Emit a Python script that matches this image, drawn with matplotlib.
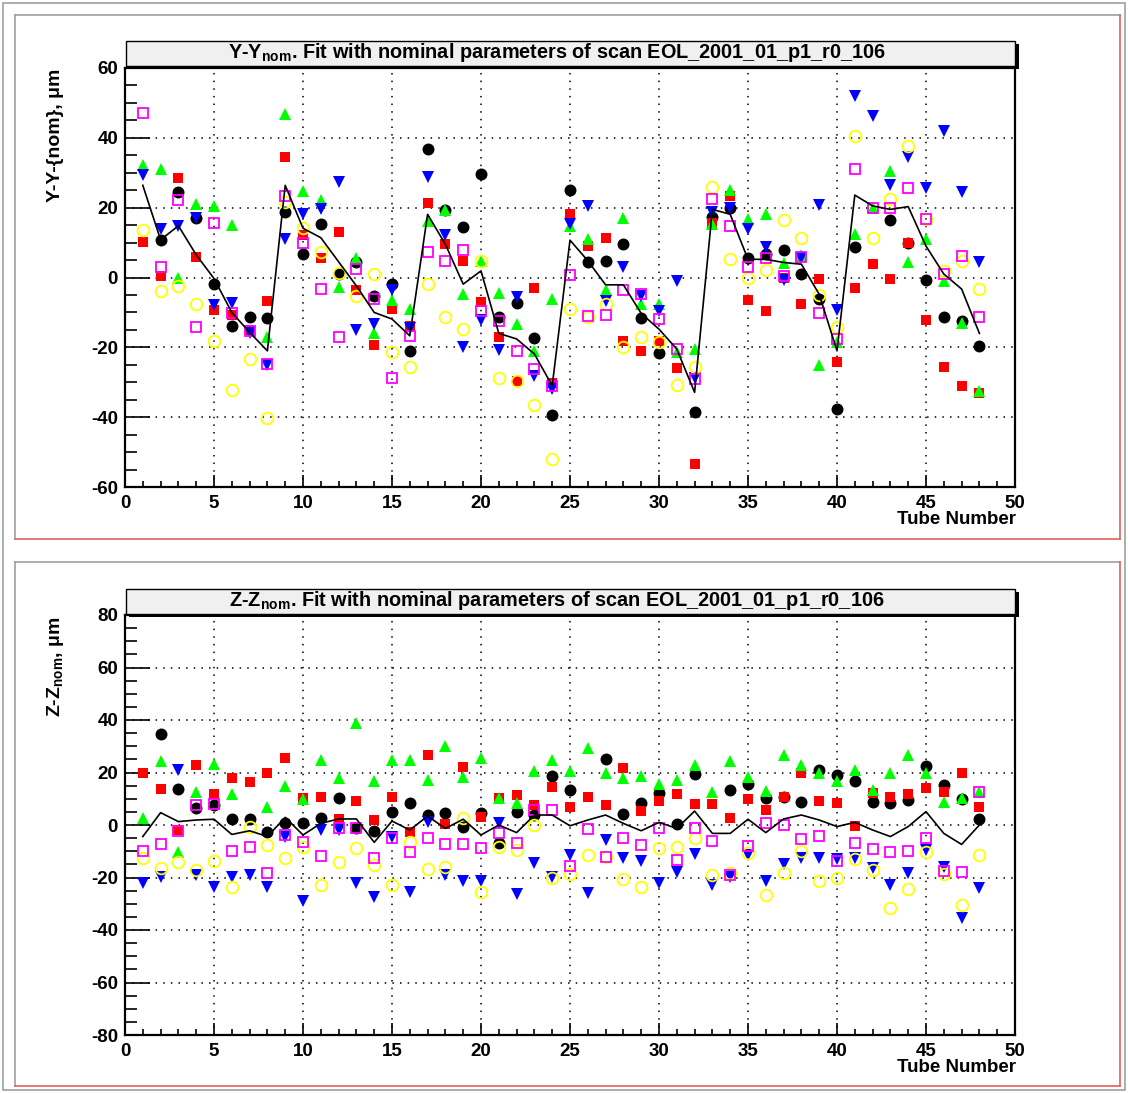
import numpy as np
import matplotlib
matplotlib.use("Agg")
import matplotlib.pyplot as plt
from matplotlib.patches import Rectangle
from matplotlib.lines import Line2D
from matplotlib.ticker import MultipleLocator

nan = np.nan
tubes = np.arange(1, 49)

# ---- Y - Y_nom (top pad) ----
y_black = [nan, 10.8, 24.6, 17.1, -1.9, -13.8, -11.4, -11.7, 18.9, 6.7, 15.2, 1.1,
           4.3, -5.4, -1.9, -21.1, 36.9, 19.2, 14.5, 29.7, -11.2, -7.3, -17.3, -39.5,
           25.0, 4.5, 4.6, 9.5, -11.7, -21.7, nan, -38.4, 17.3, 20.0, 5.5, 6.7,
           8.0, 1.0, -6.2, -37.6, 8.6, nan, 16.4, 10.0, -0.7, -11.4, -12.6, -19.7]
y_red = [10.3, 0.5, 28.4, 6.0, -9.3, -10.7, -15.0, -6.7, 34.5, 12.2, 5.7, 12.9,
         -3.6, -19.2, -9.0, -13.8, 21.4, 9.7, 4.8, -6.9, -17.1, -29.5, -3.0, -30.2,
         18.3, 9.0, 11.2, -18.1, -21.1, -18.1, -25.9, -53.5, 15.7, 23.3, -6.5, -9.5,
         0.0, -7.6, -0.5, -24.1, -3.1, 4.0, -0.5, 9.8, -12.2, -25.5, -31.0, -33.1]
y_green = [32.2, 31.2, -0.2, 21.0, 20.5, 15.0, nan, -17.1, 46.9, 24.8, 22.3, -2.7,
           5.7, -16.0, -6.5, -9.0, 16.2, 19.2, -4.8, 4.8, -4.3, -13.3, -21.0, -6.2,
           14.8, 11.0, -3.6, 17.1, -7.6, -7.6, -21.4, -20.5, 15.2, 25.0, 16.7, 18.1,
           4.2, 6.4, -25.0, -18.6, 12.4, 20.0, 30.5, 4.3, 11.0, -1.1, -12.9, -32.6]
y_blue = [29.3, 13.8, 14.8, 16.9, -7.9, -7.3, -16.0, -25.0, 11.0, 18.1, 19.7, 27.4,
          -15.0, -13.3, -3.6, -14.5, 28.8, 12.2, -20.0, -12.2, -20.8, -5.5, -28.1, -31.9,
          15.2, 20.5, -6.7, 3.0, -5.2, -9.5, -1.0, -28.8, 18.9, 19.8, 13.8, 8.8,
          -0.6, 5.7, 20.8, -9.3, 52.1, 46.2, 26.5, 34.5, 25.5, 42.1, 24.5, 4.5]
y_yellow = [13.5, -3.8, -2.4, -7.6, -18.1, -32.2, -23.3, -40.3, 21.6, 14.1, 7.3, 1.4,
            -5.2, 1.1, -21.4, -25.7, -1.9, -11.4, -14.8, 4.6, -28.8, -29.5, -36.4, -51.9,
            -9.0, -11.2, -7.6, -20.0, -17.0, -18.6, -30.7, -25.7, 25.9, 5.2, -0.2, 2.2,
            16.5, 11.4, -5.0, -14.1, 40.5, 11.2, 22.4, 37.8, 16.7, 1.9, 4.8, -3.3]
y_magenta = [47.0, 3.0, 22.1, -14.3, 15.5, -10.3, -15.2, -24.8, 23.3, 10.0, -3.3, -16.9,
             2.4, -6.2, -28.9, -16.7, 7.4, 4.8, 7.8, -9.5, -12.4, -21.0, -26.2, -31.0,
             0.8, -11.0, -10.7, -3.6, -4.8, -11.9, -20.5, -29.2, 22.4, 14.8, 3.0, 5.7,
             0.5, 5.9, -10.2, -17.6, 31.2, 19.8, 19.8, 25.7, 16.7, 1.0, 6.2, -11.4]
y_line = [26.4, 10.8, 14.8, 6.5, -0.3, -10.0, -15.7, -21.0, 26.4, 14.1, 11.4, 4.5,
          -2.4, -10.0, -11.9, -16.7, 18.1, 9.5, -1.9, 1.9, -16.0, -17.6, -21.9, -31.0,
          10.7, 4.8, -2.1, -2.1, -10.3, -14.8, -20.5, -32.9, 19.5, 18.1, 5.2, 5.2,
          4.3, 3.8, -4.8, -21.0, 23.6, 20.5, 19.5, 20.3, 9.0, 1.0, -3.3, -16.0]

# ---- Z - Z_nom (bottom pad) ----
z_black = [nan, 34.7, 13.6, 6.3, 7.6, 2.2, 2.2, -2.8, 0.6, 0.6, 2.5, 10.4,
           -1.3, -2.3, 4.8, 8.5, 3.8, 4.4, -0.6, 4.4, -7.0, 5.1, 3.8, 18.7,
           13.3, nan, 25.1, 4.1, 8.5, 12.1, 0.3, 19.3, nan, 13.3, 15.5, 10.4,
           10.8, 8.9, 21.0, 19.0, 16.9, 8.9, 8.3, 9.5, 22.6, 15.2, 9.9, 2.3]
z_red = [19.7, 13.6, -1.9, 22.9, 11.7, 18.0, 16.3, 19.9, 25.4, 10.2, 10.8, 2.2,
         9.1, 1.9, 10.5, -2.5, 26.7, 0.3, 22.2, 3.2, 10.2, 11.4, 7.6, 14.6,
         7.0, 10.5, 7.6, 21.8, 5.3, 9.3, 11.7, 7.9, 8.0, 2.8, 9.8, 5.7,
         10.8, 19.7, 9.3, 8.5, -0.4, 12.1, 10.8, 11.7, 14.0, 12.4, 19.7, 7.0]
z_green = [2.5, 24.4, -10.2, 12.4, 23.1, 11.7, nan, 7.0, 15.0, 9.8, 24.8, 18.0,
           38.7, 16.8, 24.8, 24.8, 17.1, 30.1, 18.4, 25.7, 10.4, 8.3, 20.6, 24.8,
           20.6, 29.2, 19.9, 17.8, 18.8, 15.5, 17.1, 22.9, 12.7, 24.4, 18.4, 12.9,
           26.7, 22.9, 19.7, 16.8, 21.0, 13.3, 19.7, 26.7, 19.7, 8.9, 10.2, 12.7]
z_blue = [-22.2, -19.7, 21.0, -19.0, -23.5, -19.7, -19.0, -23.5, -4.4, -29.0, -1.9, -1.9,
          -22.2, -27.6, -4.4, -25.4, 1.0, -19.0, -21.2, -21.2, 0.9, -26.4, -14.6, -19.7,
          -11.4, -25.8, -5.7, -12.7, -13.7, -22.2, -17.8, -11.2, -22.9, -19.7, -11.4, -21.2,
          -14.9, -12.7, -12.7, -13.0, -12.4, -16.5, -22.9, -18.4, -9.5, -16.1, -35.3, -23.9]
z_yellow = [-12.7, -16.5, -14.0, -17.1, -13.7, -23.7, -0.6, -7.6, -12.4, -8.3, -22.9, -14.0,
            -8.9, -15.2, -22.9, -6.3, -16.8, -16.1, 2.5, -25.7, -8.5, -9.5, 0.0, -20.1,
            -18.8, -11.4, -12.1, -20.6, -23.5, -8.9, -8.5, -5.1, -19.0, -18.4, -10.8, -26.7,
            -18.4, -9.9, -21.3, -20.3, -13.0, -17.1, -31.7, -24.5, -10.2, -18.8, -30.5, -11.4]
z_magenta = [-9.9, -7.4, -2.2, 7.6, 8.0, -9.9, -8.3, -18.4, -3.8, -6.3, -11.8, -1.3,
             -1.3, -12.4, -4.8, -10.2, -5.1, -7.4, -7.4, -8.6, -2.9, -7.0, 5.7, 5.7,
             -15.6, -1.7, -12.1, -5.1, -7.6, -1.0, -13.3, -1.0, -6.1, -19.0, -7.9, 0.6,
             0.0, -5.3, -4.2, -13.7, -6.7, -9.1, -10.4, -9.9, -5.1, -17.5, -18.0, 12.7]
z_line = [-4.4, 4.7, 1.3, 1.9, 2.2, -3.6, -2.2, -4.4, 2.9, -3.8, 0.6, 2.3,
          2.3, -6.6, 1.5, -1.9, 3.4, -1.3, 2.2, -3.8, 0.0, -2.9, 3.8, 3.8,
          -0.3, 1.9, 3.8, 0.6, -2.2, 1.0, -1.3, 5.3, -3.2, -3.2, 2.2, -2.9,
          2.3, 3.8, 1.9, -0.6, 1.0, -1.9, -4.4, -0.6, 5.1, -3.2, -7.4, 0.0]

W, H = 1128, 1093
plt.rcParams['font.family'] = ['Liberation Sans', 'DejaVu Sans']
plt.rcParams['font.weight'] = 'bold'
plt.rcParams['mathtext.default'] = 'regular'
plt.rcParams['axes.unicode_minus'] = False

fig = plt.figure(figsize=(W / 100, H / 100), dpi=100)
fig.patch.set_facecolor('white')


def fx(px):
    return px / W


def fy(py):
    return 1 - py / H


def frame_line(x0, y0, x1, y1, color, lw=1.2):
    fig.add_artist(Line2D([fx(x0), fx(x1)], [fy(y0), fy(y1)], color=color, lw=lw,
                          transform=fig.transFigure))


# canvas border
fig.add_artist(Rectangle((fx(3), fy(1090)), fx(1125) - fx(3), fy(3) - fy(1090),
                         transform=fig.transFigure, fill=False, ec='#a0a0a0', lw=1.2))
# pad borders (gray top/left, red right/bottom)
for top, bot in [(15, 539), (562, 1086)]:
    frame_line(15, top, 1120, top, '#a0a0a0')
    frame_line(15, top, 15, bot, '#a0a0a0')
    frame_line(1120, top, 1120, bot, '#e06060')
    frame_line(15, bot, 1120, bot, '#e06060')


def panel(top, bottom, ylim, ymajor, data, line, title, ylabel, title_top):
    ax = fig.add_axes([fx(125), fy(bottom), fx(1015) - fx(125), fy(top) - fy(bottom)])
    styles = [
        dict(marker='o', ms=8.6, mfc='black', mec='black', mew=0),
        dict(marker='s', ms=7.8, mfc='#ff0000', mec='#ff0000', mew=0),
        dict(marker='^', ms=8.6, mfc='#00ff00', mec='#00ff00', mew=0),
        dict(marker='v', ms=8.6, mfc='#0000ff', mec='#0000ff', mew=0),
        dict(marker='o', ms=8.4, mfc='none', mec='#ffff00', mew=1.3),
        dict(marker='s', ms=7.8, mfc='none', mec='#ff00ff', mew=1.3),
    ]
    for vals, st in zip(data, styles):
        ax.plot(tubes, vals, ls='none', clip_on=True, **st)
    ax.plot(tubes, line, color='black', lw=1.2)
    ax.set_xlim(0, 50)
    ax.set_ylim(*ylim)
    ax.xaxis.set_major_locator(MultipleLocator(5))
    ax.xaxis.set_minor_locator(MultipleLocator(1))
    ax.yaxis.set_major_locator(MultipleLocator(ymajor))
    ax.yaxis.set_minor_locator(MultipleLocator(5))
    ax.tick_params(axis='x', which='major', direction='in', length=9, width=1.2,
                   labelsize=13.5, pad=6)
    ax.tick_params(axis='x', which='minor', direction='in', length=4.5, width=1.2)
    ax.tick_params(axis='y', which='major', direction='in', length=18, width=1.2,
                   labelsize=13.5, pad=5)
    ax.tick_params(axis='y', which='minor', direction='in', length=8.5, width=1.2)
    for lab in ax.get_xticklabels() + ax.get_yticklabels():
        lab.set_fontweight('bold')
    ax.grid(True, which='major', color='black', ls=(0, (1, 4)), lw=1.1)
    for sp in ax.spines.values():
        sp.set_linewidth(1.6)
    # title box with shadow
    fig.add_artist(Rectangle((fx(129), fy(title_top + 28)), fx(1019) - fx(129), fy(title_top + 3) - fy(title_top + 28),
                             transform=fig.transFigure, fc='black', ec='none', zorder=5))
    fig.add_artist(Rectangle((fx(126), fy(title_top + 25)), fx(1015) - fx(126), fy(title_top) - fy(title_top + 25),
                             transform=fig.transFigure, fc='#f0f0f0', ec='black', lw=1.0, zorder=6))
    fig.text(fx(557), fy(title_top + 12), title, ha='center', va='center', fontsize=14.3,
             fontweight='bold', zorder=7)
    fig.text(fx(55), fy(top + 1), ylabel, rotation=90, ha='center', va='top',
             fontsize=14, fontweight='bold')
    fig.text(fx(1016), fy(bottom + 32), 'Tube Number', ha='right', va='center',
             fontsize=13.5, fontweight='bold')
    return ax


panel(68, 487, (-60, 60), 20,
      [y_black, y_red, y_green, y_blue, y_yellow, y_magenta], y_line,
      'Y-Y$_{nom}$. Fit with nominal parameters of scan EOL_2001_01_p1_r0_106',
      'Y-Y-{nom}, \u03bcm', 41)
panel(615, 1035, (-80, 80), 20,
      [z_black, z_red, z_green, z_blue, z_yellow, z_magenta], z_line,
      'Z-Z$_{nom}$. Fit with nominal parameters of scan EOL_2001_01_p1_r0_106',
      'Z-Z$_{nom}$, \u03bcm', 589)

fig.savefig('out.png', dpi=100)
